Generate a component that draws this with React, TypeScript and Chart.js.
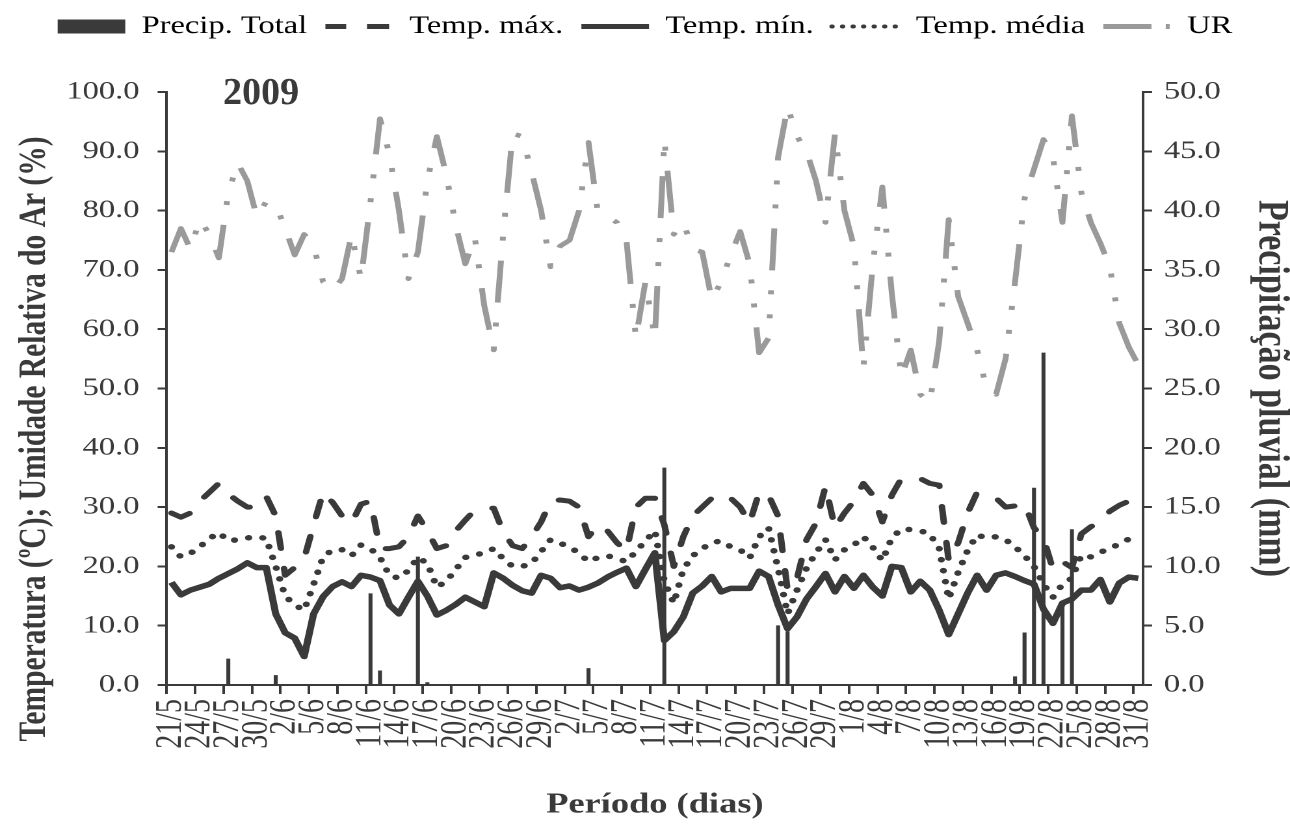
import React, { useEffect, useRef } from 'react';
import { Chart, registerables } from 'chart.js';

Chart.register(...registerables);

// ---------- data ----------
const dates = [
  '21/5', '22/5', '23/5', '24/5', '25/5', '26/5', '27/5', '28/5', '29/5', '30/5', '31/5',
  '1/6', '2/6', '3/6', '4/6', '5/6', '6/6', '7/6', '8/6', '9/6', '10/6',
  '11/6', '12/6', '13/6', '14/6', '15/6', '16/6', '17/6', '18/6', '19/6', '20/6',
  '21/6', '22/6', '23/6', '24/6', '25/6', '26/6', '27/6', '28/6', '29/6', '30/6',
  '1/7', '2/7', '3/7', '4/7', '5/7', '6/7', '7/7', '8/7', '9/7', '10/7',
  '11/7', '12/7', '13/7', '14/7', '15/7', '16/7', '17/7', '18/7', '19/7', '20/7',
  '21/7', '22/7', '23/7', '24/7', '25/7', '26/7', '27/7', '28/7', '29/7', '30/7', '31/7',
  '1/8', '2/8', '3/8', '4/8', '5/8', '6/8', '7/8', '8/8', '9/8', '10/8',
  '11/8', '12/8', '13/8', '14/8', '15/8', '16/8', '17/8', '18/8', '19/8', '20/8',
  '21/8', '22/8', '23/8', '24/8', '25/8', '26/8', '27/8', '28/8', '29/8', '30/8', '31/8',
];

const precipTotal = [
  0, 0, 0, 0, 0, 0, 2.2, 0, 0, 0,
  0, 0.8, 0, 0, 0, 0, 0, 0, 0, 0,
  0, 7.7, 1.2, 0, 0, 0, 10.8, 0.2, 0, 0,
  0, 0, 0, 0, 0, 0, 0, 0, 0, 0,
  0, 0, 0, 0, 1.4, 0, 0, 0, 0, 0,
  0, 0, 18.3, 0, 0, 0, 0, 0, 0, 0,
  0, 0, 0, 0, 5.0, 4.5, 0, 0, 0, 0,
  0, 0, 0, 0, 0, 0, 0, 0, 0, 0,
  0, 0, 0, 0, 0, 0, 0, 0, 0, 0.7,
  4.4, 16.6, 28.0, 0, 6.6, 13.1, 0, 0, 0, 0,
  0, 0, 0,
];

const tempMax = [
  29.0, 28.3, 29.0, 31.0, 32.5, 34.0, 32.2, 31.0, 30.0, 30.0,
  31.8, 28.5, 18.5, 19.8, 21.3, 27.0, 32.5, 30.8, 28.5, 27.3,
  30.5, 31.0, 23.0, 23.0, 23.3, 25.0, 28.5, 26.0, 23.0, 23.5,
  26.0, 27.8, 29.5, 29.8, 29.8, 25.8, 23.5, 23.0, 25.0, 27.5,
  31.0, 31.2, 31.0, 30.0, 25.0, 27.0, 26.0, 24.0, 22.6, 30.0,
  31.5, 31.5, 27.0, 20.0, 25.0, 28.5, 30.0, 31.5, 32.3, 31.5,
  30.0, 27.3, 32.5, 32.0, 28.5, 16.0, 18.0, 24.5, 27.3, 33.5,
  26.5, 29.0, 31.0, 34.0, 32.0, 27.5, 32.0, 34.8, 35.0, 34.8,
  34.0, 33.7, 21.0, 24.0, 29.0, 32.5, 32.0, 31.5, 30.0, 30.2,
  30.6, 26.5, 24.8, 19.5, 20.8, 19.8, 25.5, 26.7, 27.5, 29.3,
  30.3, 31.0, 32.0,
];

const tempMin = [
  17.3, 15.2, 16.0, 16.5, 17.0, 18.0, 18.8, 19.6, 20.6, 19.8,
  19.8, 12.0, 8.8, 7.9, 4.8, 12.0, 14.9, 16.6, 17.4, 16.6,
  18.5, 18.2, 17.6, 13.5, 12.0, 14.8, 17.5, 15.0, 11.8, 12.6,
  13.6, 14.8, 14.0, 13.2, 18.9, 18.0, 16.8, 15.9, 15.5, 18.5,
  18.0, 16.4, 16.7, 16.0, 16.5, 17.2, 18.2, 19.0, 19.7, 16.6,
  19.5, 22.3, 7.5, 9.0, 11.5, 15.5, 16.7, 18.3, 15.7, 16.3,
  16.3, 16.3, 19.2, 18.3, 13.5, 9.5, 11.5, 14.5, 16.6, 18.8,
  15.7, 18.3, 16.3, 18.5, 16.5, 15.0, 20.0, 19.8, 15.7, 17.5,
  16.0, 12.6, 8.5, 12.0, 15.5, 18.5, 16.0, 18.5, 18.9, 18.3,
  17.6, 17.0, 12.8, 10.4, 13.8, 14.5, 16.0, 16.0, 17.8, 14.0,
  17.2, 18.2, 18.0,
];

const tempMedia = [
  23.3, 21.6, 22.2, 23.3, 24.7, 25.7, 24.3, 24.5, 24.8, 25.0,
  24.7, 20.0, 15.0, 13.5, 12.6, 17.0, 21.6, 22.8, 22.8, 21.8,
  23.6, 23.0, 21.5, 18.5, 18.0, 19.3, 21.5, 20.5, 16.5, 17.5,
  19.5, 21.5, 22.0, 22.2, 23.0, 21.3, 20.0, 20.0, 20.5, 22.5,
  24.5, 23.9, 23.3, 22.2, 20.8, 21.5, 21.8, 21.3, 20.8, 22.5,
  24.3, 26.0, 17.5, 13.8, 19.5, 21.8, 23.0, 24.0, 24.3, 23.3,
  22.8, 21.4, 25.0, 26.5, 19.6, 12.0, 16.0, 19.7, 22.3, 24.5,
  21.1, 22.8, 23.6, 25.0, 23.2, 21.0, 24.8, 26.3, 26.2, 26.0,
  25.5, 23.0, 14.5, 19.0, 22.7, 25.3, 24.8, 25.0, 24.5, 23.3,
  21.8, 20.0, 17.0, 14.8, 17.0, 18.0, 21.9, 21.6, 22.4, 23.0,
  23.8, 24.6, 25.0,
];

const umidadeRelativa = [
  73.0, 77.0, 73.5, 78.5, 76.0, 72.0, 83.0, 88.0, 85.0, 79.0,
  81.5, 81.0, 77.0, 72.5, 76.0, 74.0, 68.0, 66.5, 68.5, 76.0,
  68.5, 81.5, 95.5, 89.5, 80.0, 68.5, 73.0, 85.0, 92.5, 86.0,
  77.5, 71.0, 75.5, 64.0, 56.5, 76.0, 93.0, 92.5, 86.5, 80.0,
  70.5, 74.0, 75.0, 80.0, 91.5, 79.5, 79.0, 78.0, 75.0, 58.5,
  68.0, 58.5, 92.0, 76.0, 78.0, 73.5, 73.0, 65.0, 68.0, 72.5,
  76.5, 71.0, 56.0, 58.5, 89.0, 97.5, 92.5, 90.0, 85.0, 78.0,
  93.0, 80.0, 74.0, 53.5, 71.0, 84.0, 66.0, 52.0, 56.5, 49.0,
  47.5, 58.0, 78.5, 65.5, 61.0, 56.5, 50.0, 49.0, 55.0, 68.0,
  82.0, 87.0, 92.0, 89.0, 78.0, 96.0, 83.0, 78.0, 74.5, 70.5,
  61.0, 57.0, 54.0,
];

const seriesNames = ['Precip. Total', 'Temp. máx.', 'Temp. mín.', 'Temp. média', 'UR'];
const yearText = '2009';
const leftTitle = 'Temperatura (ºC); Umidade Relativa do Ar (%)';
const rightTitle = 'Precipitação pluvial (mm)';
const xTitle = 'Período (dias)';

// ---------- layout (canvas is drawn narrower and stretched horizontally) ----------
const CW = 992;
const SX = 1290 / CW;
const AREA_LEFT = 166.7 / SX;
const AREA_RIGHT = 1143 / SX;
const AREA_TOP = 92;
const AREA_BOTTOM = 685;
const H = 834;

const DARK = '#3a3a3a';
const GRAY = '#9a9a9a';
const FONT = "'Liberation Serif', 'Times New Roman', serif";

export default function App() {
  const ref = useRef<HTMLCanvasElement>(null);

  useEffect(() => {
    const canvas = ref.current;
    if (!canvas) return;

    const legendSpacer = {
      id: 'legendSpacer',
      beforeLayout(chart: any) {
        const lg = chart.legend;
        if (lg && !lg.__patched) {
          const orig = lg.fit;
          lg.fit = function () {
            orig.call(this);
            this.height = AREA_TOP;
          };
          lg.__patched = true;
        }
      },
    };

    const extraText = {
      id: 'extraText',
      afterDraw(chart: any) {
        const c = chart.ctx;
        c.save();
        c.fillStyle = DARK;
        c.font = `bold 38px ${FONT}`;
        c.textBaseline = 'alphabetic';
        c.textAlign = 'left';
        c.translate(223 / SX, 104);
        c.scale(1 / SX, 1);
        c.fillText(yearText, 0, 0);
        c.restore();

        c.save();
        c.fillStyle = DARK;
        c.font = `bold 29.5px ${FONT}`;
        c.textBaseline = 'middle';
        c.textAlign = 'center';
        c.translate(35 / SX, 439);
        c.rotate(-Math.PI / 2);
        c.fillText(leftTitle, 0, 0);
        c.restore();
      },
    };

    const tickFont = { family: FONT, size: 25 };

    const chart = new Chart(canvas, {
      type: 'bar',
      data: {
        labels: dates,
        datasets: [
          {
            type: 'bar',
            label: seriesNames[0],
            data: precipTotal,
            yAxisID: 'y1',
            backgroundColor: DARK,
            borderWidth: 0,
            barThickness: 2.4,
            order: 0,
          } as any,
          {
            type: 'line',
            label: seriesNames[1],
            data: tempMax,
            yAxisID: 'y',
            borderColor: DARK,
            borderWidth: 5,
            borderDash: [16, 20],
            borderCapStyle: 'round',
            borderJoinStyle: 'round',
            pointRadius: 0,
            tension: 0,
            order: 1,
          },
          {
            type: 'line',
            label: seriesNames[2],
            data: tempMin,
            yAxisID: 'y',
            borderColor: DARK,
            borderWidth: 5.5,
            borderJoinStyle: 'round',
            pointRadius: 0,
            tension: 0,
            order: 1,
          },
          {
            type: 'line',
            label: seriesNames[3],
            data: tempMedia,
            yAxisID: 'y',
            borderColor: DARK,
            borderWidth: 5.5,
            borderDash: [0.1, 11],
            borderCapStyle: 'round',
            pointRadius: 0,
            tension: 0,
            order: 1,
          },
          {
            type: 'line',
            label: seriesNames[4],
            data: umidadeRelativa,
            yAxisID: 'y',
            borderColor: GRAY,
            borderWidth: 4.5,
            borderDash: [42, 20, 4, 20, 4, 20],
            borderCapStyle: 'butt',
            borderJoinStyle: 'round',
            pointRadius: 0,
            tension: 0,
            order: 1,
          },
        ],
      },
      options: {
        responsive: true,
        maintainAspectRatio: false,
        animation: false,
        devicePixelRatio: 2,
        layout: { padding: 0 },
        plugins: {
          tooltip: { enabled: false },
          legend: {
            display: true,
            position: 'top',
            labels: {
              usePointStyle: true,
              pointStyleWidth: 52,
              boxWidth: 52,
              boxHeight: 14,
              padding: 14,
              color: DARK,
              font: { family: FONT, size: 25 },
              generateLabels: () => [
                { text: seriesNames[0], pointStyle: 'rect', fillStyle: DARK, strokeStyle: DARK, lineWidth: 0, hidden: false, datasetIndex: 0 },
                { text: seriesNames[1], pointStyle: 'line', fillStyle: DARK, strokeStyle: DARK, lineWidth: 5, lineDash: [16, 16, 17, 100], lineCap: 'butt', hidden: false, datasetIndex: 1 },
                { text: seriesNames[2], pointStyle: 'line', fillStyle: DARK, strokeStyle: DARK, lineWidth: 5, lineDash: [], lineCap: 'butt', hidden: false, datasetIndex: 2 },
                { text: seriesNames[3], pointStyle: 'line', fillStyle: DARK, strokeStyle: DARK, lineWidth: 4, lineDash: [0.1, 8], lineCap: 'round', hidden: false, datasetIndex: 3 },
                { text: seriesNames[4], pointStyle: 'line', fillStyle: GRAY, strokeStyle: GRAY, lineWidth: 5, lineDash: [37, 11, 3, 100], lineCap: 'butt', hidden: false, datasetIndex: 4 },
              ] as any,
            },
          },
        },
        scales: {
          x: {
            type: 'category',
            offset: true,
            grid: {
              offset: true,
              drawOnChartArea: false,
              drawTicks: true,
              tickLength: 9,
              tickWidth: 2,
              color: 'rgba(0,0,0,0)',
              tickColor: (ctx: any) => (ctx.index !== undefined && ctx.index % 3 === 0 ? DARK : 'rgba(0,0,0,0)'),
            },
            border: { display: true, color: DARK, width: 2 },
            ticks: {
              autoSkip: false,
              minRotation: 90,
              maxRotation: 90,
              padding: 5,
              color: DARK,
              font: { family: FONT, size: 28 },
              callback: (_v: any, i: number) => (i % 3 === 0 ? dates[i] : ''),
            },
            title: {
              display: true,
              text: xTitle,
              color: DARK,
              font: { family: FONT, size: 28, weight: 'bold' },
              padding: { top: 0, bottom: 12 },
            },
            afterFit: (s: any) => {
              s.height = H - AREA_BOTTOM;
            },
          },
          y: {
            position: 'left',
            min: 0,
            max: 100,
            grid: { drawOnChartArea: false, tickLength: 7, tickWidth: 2, tickColor: DARK, color: DARK },
            border: { display: true, color: DARK, width: 2 },
            ticks: {
              stepSize: 10,
              padding: 14,
              color: DARK,
              font: tickFont,
              callback: (v: any) => Number(v).toFixed(1),
            },
            afterFit: (s: any) => {
              s.width = AREA_LEFT;
            },
          },
          y1: {
            position: 'right',
            min: 0,
            max: 50,
            grid: { drawOnChartArea: false, tickLength: 7, tickWidth: 2, tickColor: DARK, color: DARK },
            border: { display: true, color: DARK, width: 2 },
            ticks: {
              stepSize: 5,
              padding: 9,
              color: DARK,
              font: tickFont,
              callback: (v: any) => Number(v).toFixed(1),
            },
            title: {
              display: true,
              text: rightTitle,
              color: DARK,
              font: { family: FONT, size: 34, weight: 'bold', lineHeight: 0.8 },
              padding: 1,
            },
            afterFit: (s: any) => {
              s.width = CW - AREA_RIGHT;
            },
          },
        },
      } as any,
      plugins: [legendSpacer, extraText],
    });

    return () => chart.destroy();
  }, []);

  return (
    <div style={{ position: 'absolute', left: 0, top: 0, width: 1290, height: H, overflow: 'hidden', background: '#fff' }}>
      <div style={{ width: CW, height: H, transform: `scaleX(${SX})`, transformOrigin: '0 0' }}>
        <canvas ref={ref} />
      </div>
    </div>
  );
}
